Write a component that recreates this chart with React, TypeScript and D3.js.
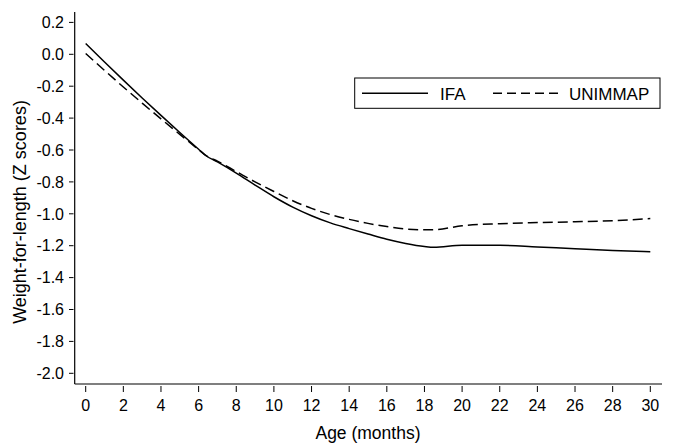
import React from "react";
import * as d3 from "d3";

const months = [0, 1, 2, 3, 4, 5, 6, 6.4, 7, 8, 9, 10, 11, 12, 13, 14, 15, 16, 17, 18, 18.5, 20, 22, 24, 26, 28, 30];
const ifa = [0.068, -0.048, -0.162, -0.274, -0.383, -0.49, -0.595, -0.636, -0.675, -0.745, -0.82, -0.893, -0.958, -1.012, -1.057, -1.093, -1.127, -1.16, -1.186, -1.205, -1.21, -1.197, -1.197, -1.208, -1.219, -1.23, -1.238];
const unimmap = [0.005, -0.101, -0.205, -0.306, -0.405, -0.502, -0.598, -0.636, -0.67, -0.735, -0.8, -0.86, -0.918, -0.966, -1.005, -1.035, -1.06, -1.08, -1.095, -1.1, -1.1, -1.075, -1.062, -1.055, -1.05, -1.043, -1.03];
const xTicks = [0, 2, 4, 6, 8, 10, 12, 14, 16, 18, 20, 22, 24, 26, 28, 30];
const yTicks = [0.2, 0.0, -0.2, -0.4, -0.6, -0.8, -1.0, -1.2, -1.4, -1.6, -1.8, -2.0];
const seriesNames = ["IFA", "UNIMMAP"];

const W = 676;
const H = 444;
const FONT = "Arial, 'Liberation Sans', sans-serif";

export default function App() {
  const x = d3.scaleLinear().domain([0, 30]).range([85.7, 650.3]);
  const y = d3.scaleLinear().domain([0.2, -2.0]).range([22.4, 373.3]);
  const axisLeft = 74.7;
  const axisBottom = 384;
  const axisTop = 12;
  const axisRight = 662;

  const line = d3
    .line<[number, number]>()
    .x((d) => x(d[0]))
    .y((d) => y(d[1]))
    .curve(d3.curveMonotoneX);

  const ifaPath = line(months.map((m, i) => [m, ifa[i]] as [number, number])) || "";
  const uniPath = line(months.map((m, i) => [m, unimmap[i]] as [number, number])) || "";

  return (
    <svg
      width={W}
      height={H}
      style={{ position: "absolute", left: 0, top: 0, background: "#fff" }}
      fontFamily={FONT}
    >
      <rect x={0} y={0} width={W} height={H} fill="#fff" />
      {/* axes */}
      <line x1={axisLeft} x2={axisLeft} y1={axisTop} y2={axisBottom} stroke="#000" strokeWidth={1.2} />
      <line x1={axisLeft} x2={axisRight} y1={axisBottom} y2={axisBottom} stroke="#000" strokeWidth={1.2} />
      {/* y ticks */}
      {yTicks.map((t) => (
        <g key={"y" + t}>
          <line x1={69} x2={73.5} y1={y(t)} y2={y(t)} stroke="#000" strokeWidth={1} />
          <text x={64} y={y(t)} dy="0.36em" textAnchor="end" fontSize={16} fill="#000">
            {d3.format(".1f")(t).replace("−", "-")}
          </text>
        </g>
      ))}
      {/* x ticks */}
      {xTicks.map((t) => (
        <g key={"x" + t}>
          <line x1={x(t)} x2={x(t)} y1={386} y2={392} stroke="#000" strokeWidth={1} />
          <text x={x(t)} y={411} textAnchor="middle" fontSize={16} fill="#000">
            {t}
          </text>
        </g>
      ))}
      {/* axis labels */}
      <text x={368} y={439} textAnchor="middle" fontSize={17.5} fill="#000">
        Age (months)
      </text>
      <text
        transform={`translate(25.5,${212}) rotate(-90)`}
        textAnchor="middle"
        fontSize={18}
        fill="#000"
      >
        Weight-for-length (Z scores)
      </text>
      {/* lines */}
      <path d={ifaPath} fill="none" stroke="#000" strokeWidth={1.5} />
      <path d={uniPath} fill="none" stroke="#000" strokeWidth={1.5} strokeDasharray="10,5" />
      {/* legend */}
      <rect x={354.7} y={78} width={305.3} height={30.3} fill="#fff" stroke="#000" strokeWidth={1} />
      <line x1={362} x2={428} y1={93.3} y2={93.3} stroke="#000" strokeWidth={1.5} />
      <text x={440} y={99.5} fontSize={17} fill="#000">
        {seriesNames[0]}
      </text>
      <line x1={493} x2={561} y1={93.3} y2={93.3} stroke="#000" strokeWidth={1.5} strokeDasharray="9,5" />
      <text x={569} y={99.5} fontSize={17} fill="#000">
        {seriesNames[1]}
      </text>
    </svg>
  );
}
